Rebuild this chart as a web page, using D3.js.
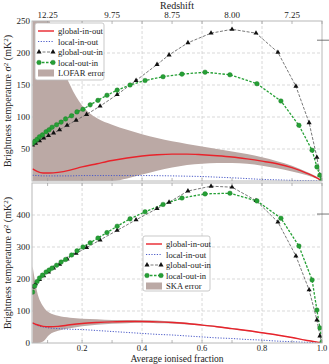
<!DOCTYPE html>
<html>
<head>
<meta charset="utf-8">
<script src="https://cdn.jsdelivr.net/npm/d3@7"></script>
<style>
  body { margin: 0; background: #fff; }
  svg text { font-family: "Liberation Serif", "Times New Roman", serif; fill: #222; }
</style>
</head>
<body>
<svg id="chart" width="329" height="364" font-family="Liberation Serif, serif"></svg>
<script>
// ionised fraction samples
const xOutIn = [0.035,0.045,0.058,0.072,0.088,0.105,0.125,0.15,0.18,0.215,0.26,0.317,0.38,0.45,0.49,0.553,0.63,0.70,0.78,0.853,0.913,0.957,0.983,0.993,1.0];
const xLocalOutIn = [0.035,0.042,0.05,0.058,0.068,0.08,0.09,0.10,0.115,0.13,0.145,0.165,0.183,0.203,0.227,0.253,0.283,0.317,0.36,0.41,0.47,0.533,0.61,0.693,0.783,0.863,0.923,0.967,0.983,0.993,1.0];
const xSmooth = [0.035,0.05,0.07,0.09,0.12,0.16,0.2,0.25,0.3,0.35,0.4,0.45,0.5,0.55,0.6,0.65,0.7,0.75,0.8,0.85,0.9,0.95,0.99,1.0];

// top panel (LOFAR)
const topGlobalOutIn = [56,59,63,67,71,75,80,87,95,104,117,135,157,182,197,216,231,237,231,201,148,91,37,9,0];
const topLocalOutIn = [59,62,65,69,72,77,80,84,88,92,97,102,108,112,119,126,134,142,150,157,163,167,170,166,152,125,87,48,22,9,1];
const topGlobalInOut = [19,15,12.5,12.5,13.5,17,22,27,32,36,39,41,42,42,41,39.5,37.5,34.5,31,27,21,12,3,0];
const topLocalInOut = [9,8.5,8,8,8,8,8.5,8.5,8.5,8.5,8.5,8.3,8,7.5,7,6,5,3.8,2.5,1.8,1,0.6,0.2,0];
const lofarUpper = [600,420,320,255,200,150,118,98,88,80,73,67,62,58,54,50,46,42,37,31,24,14,4,0];
const lofarLower = [0,0,0,0,0,0,0,0,0,4,10,16,21,25,27,28,28,27,24,20,15,9,2,0];

// bottom panel (SKA)
const botGlobalOutIn = [175,185,198,210,222,234,246,262,280,298,322,352,385,420,440,475,490,487,445,378,272,166,72,22,0];
const botLocalOutIn = [159,178,192,203,212,222,228,234,243,253,261,275,288,300,313,328,345,365,388,410,433,453,466,468,444,390,303,197,103,47,3];
const botGlobalInOut = [63,57,52,51,52,57,61,64,66,67,67,66,64,61,56,51,45,39,32,25,17,8,2,0];
const botLocalInOut = [62,55,50,47,45,43,42,39,36,33,30,27,25,22,19,16,14,11,9,6,4,2,0.5,0];
const skaUpper = [240,160,115,95,85,79,76,74,72,72,71,70,67,63,58,53,47,40,33,26,18,9,2,0];
const skaLower = [0,0,5,25,38,46,52,57,60,62,63,62,61,58,54,49,43,37,31,24,16,8,2,0];

// axes
const zTicks = [0.085,0.3,0.5,0.7,0.9];
const zLabels = ["12.25","9.75","8.75","8.00","7.25"];
const xTicks = [0.2,0.4,0.6,0.8,1.0];
const topYTicks = [50,100,150,200,250];
const botYTicks = [0,100,200,300,400];
const topMark = 220, botMark = 403;

const svg = d3.select("#chart");
const x = d3.scaleLinear().domain([0.033,1.0]).range([32,322]);

const panels = [
  { id: "top", y: d3.scaleLinear().domain([0,250]).range([181,21]), yTicks: topYTicks,
    gOut: topGlobalOutIn, lOut: topLocalOutIn, gIn: topGlobalInOut, lIn: topLocalInOut,
    up: lofarUpper, lo: lofarLower, err: "LOFAR error", mark: topMark,
    legend: { x: 35, y: 23, w: 69, h: 57 } },
  { id: "bot", y: d3.scaleLinear().domain([0,500]).range([343,183]), yTicks: botYTicks,
    gOut: botGlobalOutIn, lOut: botLocalOutIn, gIn: botGlobalInOut, lIn: botLocalInOut,
    up: skaUpper, lo: skaLower, err: "SKA error", mark: botMark,
    legend: { x: 143, y: 236, w: 67, h: 55 } }
];

const red = "#e8232b", blue = "#4a5ac8", green = "#25a035", band = "#bba9a5";

panels.forEach(p => {
  const y = p.y;
  const [y0, y1] = y.range();
  const g = svg.append("g");

  g.append("clipPath").attr("id", "clip-" + p.id)
    .append("rect").attr("x", 32).attr("y", y1).attr("width", 290).attr("height", y0 - y1);

  // grid
  g.selectAll(".gx").data(xTicks.filter(d => d < 1)).join("line")
    .attr("x1", d => x(d)).attr("x2", d => x(d)).attr("y1", y1).attr("y2", y0)
    .attr("stroke", "#cfcfcf").attr("stroke-width", 0.8).attr("stroke-dasharray", "3,2");
  g.selectAll(".gy").data(p.yTicks.filter(d => d > 0 && d < y.domain()[1])).join("line")
    .attr("x1", 32).attr("x2", 322).attr("y1", d => y(d)).attr("y2", d => y(d))
    .attr("stroke", "#cfcfcf").attr("stroke-width", 0.8).attr("stroke-dasharray", "3,2");

  const plot = g.append("g").attr("clip-path", `url(#clip-${p.id})`);

  // error band
  const area = d3.area().x((d, i) => x(xSmooth[i])).y0((d, i) => y(p.lo[i])).y1(d => y(d))
    .curve(d3.curveMonotoneX);
  plot.append("path").attr("d", area(p.up)).attr("fill", band);

  const smooth = d3.line().x((d, i) => x(xSmooth[i])).y(d => y(d)).curve(d3.curveMonotoneX);
  plot.append("path").attr("d", smooth(p.lIn)).attr("fill", "none")
    .attr("stroke", blue).attr("stroke-width", 1).attr("stroke-dasharray", "1.2,1.5");
  plot.append("path").attr("d", smooth(p.gIn)).attr("fill", "none")
    .attr("stroke", red).attr("stroke-width", 1.4);

  const lineOut = d3.line().x((d, i) => x(xOutIn[i])).y(d => y(d));
  const lineLoc = d3.line().x((d, i) => x(xLocalOutIn[i])).y(d => y(d));
  plot.append("path").attr("d", lineOut(p.gOut)).attr("fill", "none")
    .attr("stroke", "#555").attr("stroke-width", 0.8).attr("stroke-dasharray", "3,1.5");
  plot.append("path").attr("d", lineLoc(p.lOut)).attr("fill", "none")
    .attr("stroke", green).attr("stroke-width", 1.3).attr("stroke-dasharray", "2.5,1.5");

  const tri = d3.symbol().type(d3.symbolTriangle).size(11);
  plot.selectAll(".tri").data(p.gOut).join("path")
    .attr("d", tri).attr("fill", "#111")
    .attr("transform", (d, i) => `translate(${x(xOutIn[i])},${y(d)})`);
  plot.selectAll(".dot").data(p.lOut).join("circle")
    .attr("cx", (d, i) => x(xLocalOutIn[i])).attr("cy", d => y(d)).attr("r", 2.3)
    .attr("fill", green).attr("stroke", "#1b7a28").attr("stroke-width", 0.4);

  // frame
  g.append("rect").attr("x", 32).attr("y", y1).attr("width", 290).attr("height", y0 - y1)
    .attr("fill", "none").attr("stroke", "#b8b8b8").attr("stroke-width", 1);

  // ticks
  const tickX = xTicks.concat(zTicks);
  g.selectAll(".tb").data(tickX).join("line")
    .attr("x1", d => x(d)).attr("x2", d => x(d)).attr("y1", y0).attr("y2", y0 - 3)
    .attr("stroke", "#999").attr("stroke-width", 0.7);
  g.selectAll(".tt").data(tickX).join("line")
    .attr("x1", d => x(d)).attr("x2", d => x(d)).attr("y1", y1).attr("y2", y1 + 3)
    .attr("stroke", "#999").attr("stroke-width", 0.7);
  g.selectAll(".ty").data(p.yTicks).join("text")
    .attr("x", 30).attr("y", d => y(d) + 3).attr("text-anchor", "end")
    .attr("font-size", 9).text(d => d);

  // right side marker
  g.append("line").attr("x1", x(1.0) - 5).attr("x2", x(1.0) + 7)
    .attr("y1", y(p.mark)).attr("y2", y(p.mark)).attr("stroke", "#555").attr("stroke-width", 0.8);

  // y label
  g.append("text")
    .attr("transform", `translate(11,${(y0 + y1) / 2}) rotate(-90)`)
    .attr("text-anchor", "middle").attr("font-size", 10)
    .html("Brightness temperature σ<tspan dy='-3' font-size='7'>2</tspan><tspan dy='3'> (mK</tspan><tspan dy='-3' font-size='7'>2</tspan><tspan dy='3'>)</tspan>");

  // legend
  const L = p.legend;
  const lg = g.append("g");
  lg.append("rect").attr("x", L.x).attr("y", L.y).attr("width", L.w).attr("height", L.h)
    .attr("rx", 2).attr("fill", "#fff").attr("stroke", "#bbb").attr("stroke-width", 0.8);
  const items = ["global-in-out", "local-in-out", "global-out-in", "local-out-in", p.err];
  items.forEach((name, k) => {
    const cy = L.y + 8 + k * 10.5;
    const ax = L.x + 3, bx = L.x + 19;
    if (k === 0) lg.append("line").attr("x1", ax).attr("x2", bx).attr("y1", cy).attr("y2", cy)
      .attr("stroke", red).attr("stroke-width", 1.4);
    if (k === 1) lg.append("line").attr("x1", ax).attr("x2", bx).attr("y1", cy).attr("y2", cy)
      .attr("stroke", blue).attr("stroke-width", 1).attr("stroke-dasharray", "1.2,1.5");
    if (k === 2) {
      lg.append("line").attr("x1", ax).attr("x2", bx).attr("y1", cy).attr("y2", cy)
        .attr("stroke", "#555").attr("stroke-width", 0.8).attr("stroke-dasharray", "3,1.5");
      [ax + 1, bx - 1].forEach(px => lg.append("path").attr("d", tri)
        .attr("transform", `translate(${px},${cy})`).attr("fill", "#111"));
    }
    if (k === 3) {
      lg.append("line").attr("x1", ax).attr("x2", bx).attr("y1", cy).attr("y2", cy)
        .attr("stroke", green).attr("stroke-width", 1.3).attr("stroke-dasharray", "2.5,1.5");
      [ax + 1, bx - 1].forEach(px => lg.append("circle").attr("cx", px).attr("cy", cy)
        .attr("r", 2.3).attr("fill", green).attr("stroke", "#1b7a28").attr("stroke-width", 0.4));
    }
    if (k === 4) lg.append("rect").attr("x", ax).attr("y", cy - 3.5).attr("width", bx - ax)
      .attr("height", 7).attr("fill", band);
    lg.append("text").attr("x", L.x + 23).attr("y", cy + 3).attr("font-size", 8.6).text(name);
  });
});

// top redshift axis labels
const xTop = panels[0].y.range()[1];
svg.selectAll(".zl").data(zTicks).join("text")
  .attr("x", d => x(d)).attr("y", xTop - 3).attr("text-anchor", "middle")
  .attr("font-size", 9).text((d, i) => zLabels[i]);
svg.append("text").attr("x", 177).attr("y", 9).attr("text-anchor", "middle")
  .attr("font-size", 10).text("Redshift");

// bottom axis labels
const yBot = panels[1].y.range()[0];
svg.selectAll(".xl").data(xTicks).join("text")
  .attr("x", d => x(d)).attr("y", yBot + 7.5).attr("text-anchor", "middle")
  .attr("font-size", 8.5).text(d => d.toFixed(1));
svg.append("text").attr("x", 177).attr("y", yBot + 18.5).attr("text-anchor", "middle")
  .attr("font-size", 9.5).text("Average ionised fraction");
</script>
</body>
</html>
